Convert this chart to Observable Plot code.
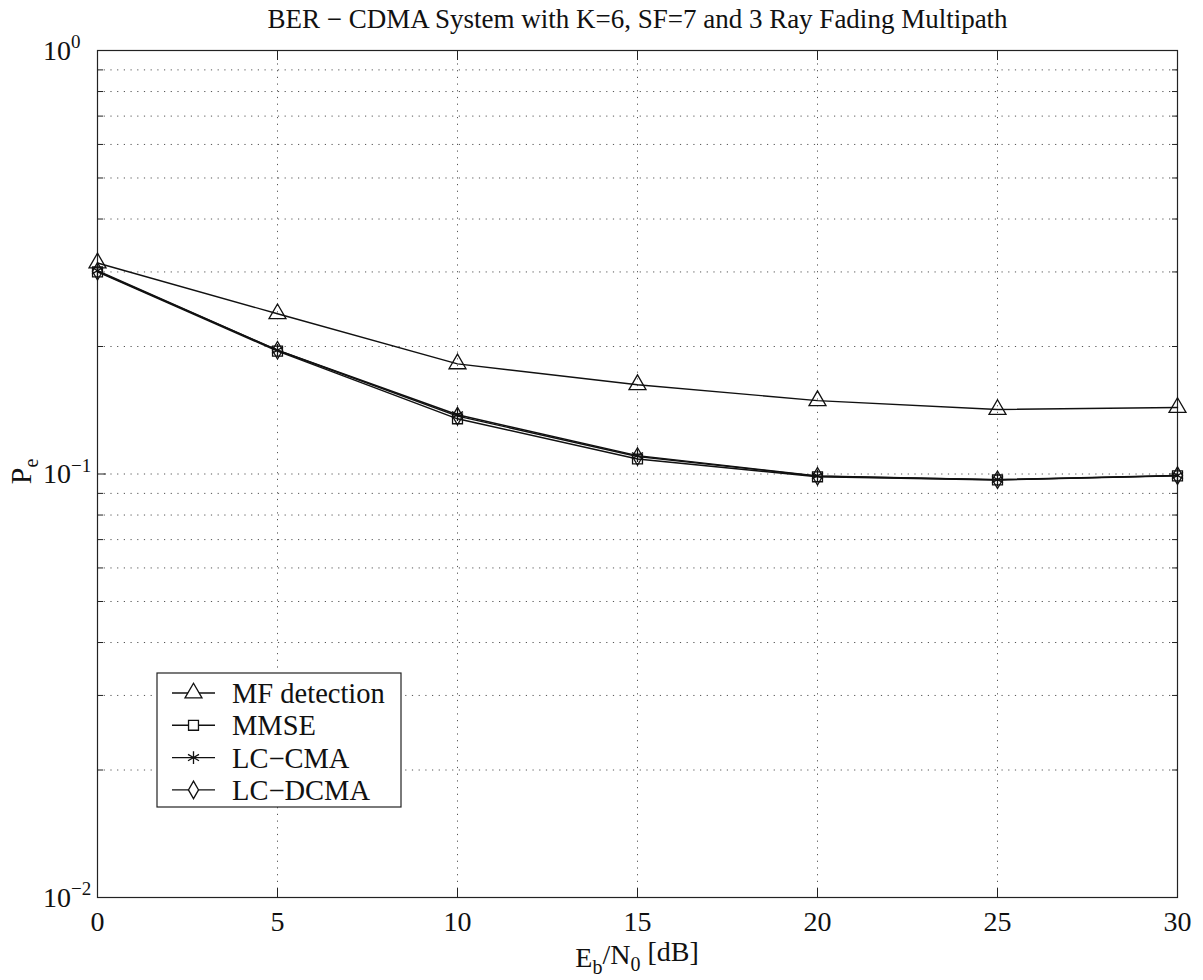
<!DOCTYPE html>
<html><head><meta charset="utf-8">
<script src="https://cdn.jsdelivr.net/npm/d3@7"></script>
<script src="https://cdn.jsdelivr.net/npm/@observablehq/plot@0.6"></script>
<style>
body{margin:0;background:#fff}
svg{font-family:"Liberation Serif","Times New Roman",serif}
</style>
</head><body><div id="chart"></div>
<script>
// ---- data ----
const ebn0 = [0, 5, 10, 15, 20, 25, 30];
const mfDetection = [0.315, 0.239, 0.182, 0.1625, 0.149, 0.142, 0.1435];
const mmse        = [0.300, 0.195, 0.135, 0.1085, 0.0985, 0.0968, 0.0990];
const lcCma       = [0.302, 0.196, 0.138, 0.1105, 0.0990, 0.0970, 0.0992];
const lcDcma      = [0.301, 0.196, 0.137, 0.1100, 0.0988, 0.0969, 0.0991];
const seriesNames = ["MF detection", "MMSE", "LC−CMA", "LC−DCMA"];
const seriesSymbols = ["triangle", "square", "asterisk", "diamond"];
const seriesR = [6.3, 5.6, 6, 5.3];
const xTicks = [0, 5, 10, 15, 20, 25, 30];
const xGrid = [5, 10, 15, 20, 25];
const yMajor = [0.01, 0.1, 1];
const yExp = ["−2", "−1", "0"];
const yMinor = [0.02,0.03,0.04,0.05,0.06,0.07,0.08,0.09,0.2,0.3,0.4,0.5,0.6,0.7,0.8,0.9];
const yGrid = [0.02,0.03,0.04,0.05,0.06,0.07,0.08,0.09,0.1,0.2,0.3,0.4,0.5,0.6,0.7,0.8,0.9];
const titleText = "BER − CDMA System with K=6, SF=7 and 3 Ray Fading Multipath";

const allSeries = [mfDetection, mmse, lcCma, lcDcma];
const rows = [];
allSeries.forEach((vals, i) => vals.forEach((v, j) => rows.push({series: seriesNames[i], x: ebn0[j], y: v})));

const dotted = {stroke: "#555", strokeWidth: 1, strokeDasharray: "1.2,5.5"};

const marks = [
  Plot.ruleY(yGrid, dotted),
  Plot.ruleX(xGrid, dotted),
  Plot.frame({stroke: "#222", strokeWidth: 1.2}),
  Plot.axisX({anchor: "bottom", ticks: xTicks, tickSize: -9, tickFormat: () => "", stroke: "#222"}),
  Plot.axisX({anchor: "top", ticks: xTicks, tickSize: -9, tickFormat: () => "", stroke: "#222"}),
  Plot.axisY({anchor: "left", ticks: yMajor, tickSize: -9, tickFormat: () => "", stroke: "#222"}),
  Plot.axisY({anchor: "right", ticks: yMajor, tickSize: -9, tickFormat: () => "", stroke: "#222"}),
  Plot.axisY({anchor: "left", ticks: yMinor, tickSize: -6, tickFormat: () => "", stroke: "#222"}),
  Plot.axisY({anchor: "right", ticks: yMinor, tickSize: -6, tickFormat: () => "", stroke: "#222"}),
  Plot.axisX({anchor: "bottom", ticks: xTicks, tickSize: 0, tickPadding: 14, fontSize: 28, fill: "#111"}),
  Plot.text([titleText], {frameAnchor: "top", dy: -23, lineAnchor: "bottom", fontSize: 27, fill: "#111"}),
];
seriesNames.forEach((name, i) => {
  const sub = rows.filter(r => r.series === name);
  marks.push(Plot.line(sub, {x: "x", y: "y", stroke: "#111", strokeWidth: 1.4}));
  marks.push(Plot.dot(sub, {x: "x", y: "y", symbol: () => seriesSymbols[i], stroke: "#111", fill: "none", strokeWidth: 1.3, r: seriesR[i]}));
});

const chart = Plot.plot({
  width: 1203,
  height: 980,
  marginLeft: 97,
  marginRight: 26,
  marginTop: 50,
  marginBottom: 83,
  style: {fontFamily: '"Liberation Serif", "Times New Roman", serif', background: "#fff"},
  x: {domain: [0, 30], label: null},
  y: {type: "log", domain: [0.01, 1], label: null},
  symbol: {type: "identity"},
  marks
});
document.getElementById("chart").appendChild(chart);

const svg = d3.select(chart);
const xs = chart.scale("x"), ys = chart.scale("y");

// y tick labels 10^k placed through the y scale
const yl0 = svg.append("g").attr("fill", "#111").attr("font-size", 28).attr("text-anchor", "start");
yMajor.forEach((v, k) => {
  const t = yl0.append("text").attr("x", 43).attr("y", ys.apply(v)).attr("dy", "0.35em");
  t.append("tspan").text("10");
  t.append("tspan").attr("dy", "-0.6em").attr("font-size", 19).text(yExp[k]);
});

const midX = (xs.apply(0) + xs.apply(30)) / 2;

// x label
const xl = svg.append("text").attr("x", midX).attr("y", 967).attr("text-anchor", "middle")
  .attr("font-size", 28).attr("fill", "#111");
xl.append("tspan").text("E");
xl.append("tspan").attr("dy", "0.35em").attr("font-size", 20).text("b");
xl.append("tspan").attr("dy", "-0.35em").text("/N");
xl.append("tspan").attr("dy", "0.35em").attr("font-size", 20).text("0");
xl.append("tspan").attr("dy", "-0.35em").text(" [dB]");

// y label
const yMid = (ys.apply(0.01) + ys.apply(1)) / 2;
const yl = svg.append("text").attr("transform", `translate(31,${yMid - 2}) rotate(-90)`)
  .attr("text-anchor", "middle").attr("font-size", 30).attr("fill", "#111");
yl.append("tspan").text("P");
yl.append("tspan").attr("dy", "0.35em").attr("font-size", 20).text("e");

// legend
const lg = svg.append("g").attr("transform", "translate(157,673)");
lg.append("rect").attr("width", 244).attr("height", 134).attr("fill", "#fff").attr("stroke", "#222").attr("stroke-width", 1.2);
const symMap = {triangle: d3.symbolTriangle, square: d3.symbolSquare, asterisk: d3.symbolAsterisk, diamond: d3.symbolDiamond};
seriesNames.forEach((name, i) => {
  const cy = 20 + i * 32.3;
  lg.append("line").attr("x1", 15).attr("x2", 58).attr("y1", cy).attr("y2", cy).attr("stroke", "#111").attr("stroke-width", 1.4);
  lg.append("path").attr("transform", `translate(36.5,${cy})`)
    .attr("d", d3.symbol(symMap[seriesSymbols[i]], Math.PI * seriesR[i] * seriesR[i])())
    .attr("fill", "#fff").attr("stroke", "#111").attr("stroke-width", 1.3);
  lg.append("text").attr("x", 75).attr("y", cy).attr("dy", "0.35em").attr("text-anchor", "start")
    .attr("font-size", 28.5).attr("fill", "#111").text(name);
});
</script>
</body></html>
